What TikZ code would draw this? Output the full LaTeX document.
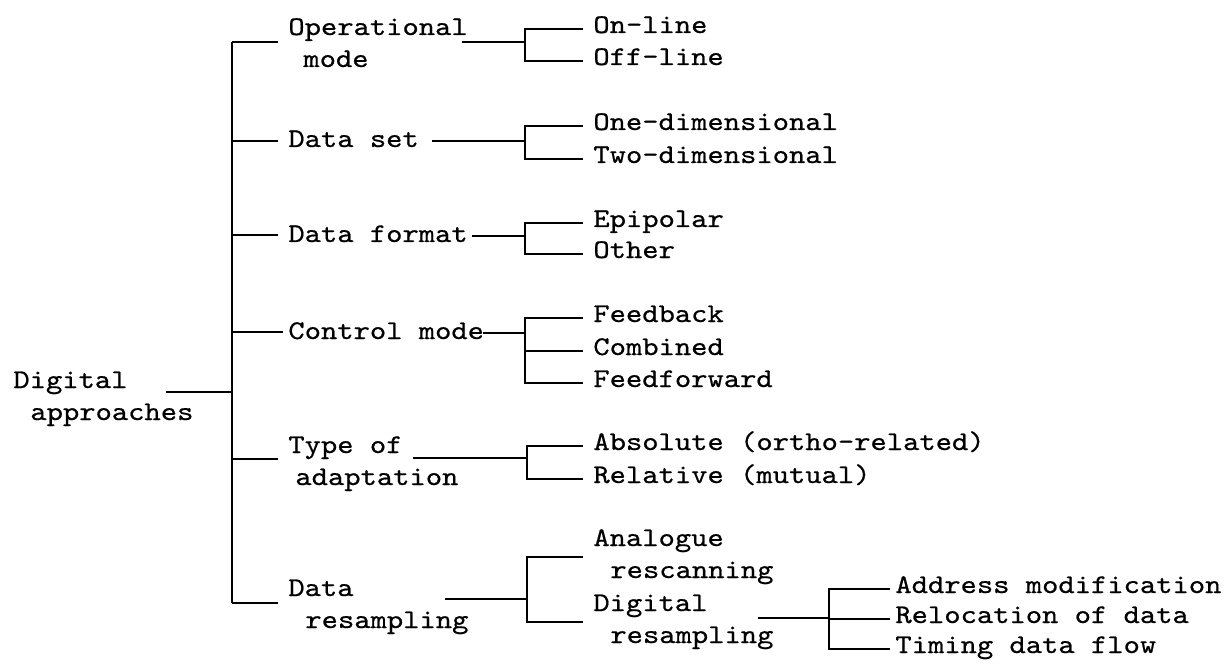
\documentclass[tikz,border=0pt]{standalone}
\usepackage{fontspec}
\newfontfamily\typewriter{lmmono10-regular.otf}[FakeStretch=1.15, FakeBold=0.6]

\begin{document}
\begin{tikzpicture}[
		x=0.5pt, y=-0.5pt,
		entry/.style={anchor=base west, inner xsep=5pt, inner ysep=1pt, align=left, font=\typewriter\fontsize{13.5}{16}\selectfont},
		tight/.style={inner xsep=2.5pt},
		conn/.style={line width=0.9pt}
	]
	\useasboundingbox (0,0) rectangle (1224,663);

	% root and first level (two-line nodes sit on their last line)
	\node[entry, inner xsep=0pt] (root) at (13,420) {Digital\\\hspace*{8.5pt}approaches};
	\node[entry] (op) at (278,67) {Operational\\\hspace*{7.5pt}mode};
	\node[entry] (ds) at (278,147) {Data set};
	\node[entry] (df) at (278,242) {Data format};
	\node[entry, tight] (cm) at (283,339) {Control mode};
	\node[entry] (ta) at (278,485) {Type of\\\hspace*{3.5pt}adaptation};
	\node[entry] (dr) at (278,628) {Data\\\hspace*{8.5pt}resampling};

	% second level
	\node[entry] (onl) at (583,33) {On-line};
	\node[entry] (ofl) at (583,65) {Off-line};
	\node[entry] (one) at (583,130) {One-dimensional};
	\node[entry] (two) at (583,163) {Two-dimensional};
	\node[entry] (epi) at (583,227) {Epipolar};
	\node[entry] (oth) at (583,258) {Other};
	\node[entry] (fb) at (583,322) {Feedback};
	\node[entry] (comb) at (583,355) {Combined};
	\node[entry] (ff) at (583,387) {Feedforward};
	\node[entry] (abs) at (583,450) {Absolute (ortho-related)};
	\node[entry] (rel) at (583,483) {Relative (mutual)};
	\node[entry] (ana) at (583,578) {Analogue\\\hspace*{8.5pt}rescanning};
	\node[entry] (dig) at (583,643) {Digital\\\hspace*{8.5pt}resampling};

	% third level
	\node[entry, tight] (adr) at (890,593) {Address modification};
	\node[entry, tight] (rloc) at (890,623) {Relocation of data};
	\node[entry, tight] (tim) at (890,653) {Timing data flow};

	% trunk
	\coordinate (root-out) at (166,392);
	\coordinate (j-root) at (232,392);
	\coordinate (j-op) at (232,42);
	\coordinate (j-ds) at (232,141);
	\coordinate (j-df) at (232,235);
	\coordinate (j-cm) at (232,332);
	\coordinate (j-ta) at (232,459);
	\coordinate (j-dr) at (232,603);
	\draw[conn] (root-out) -- (j-root);
	\draw[conn] (j-op) -- (j-dr);
	\foreach \k in {op,ds,df,cm,ta,dr}
		\draw[conn] (j-\k) -- (j-\k -| \k.west);

	% brackets of the second level
	\coordinate (op-out) at (462,42);   \coordinate (k-op) at (525,42);
	\coordinate (ds-out) at (432,141);  \coordinate (k-ds) at (525,141);
	\coordinate (df-out) at (472,236);  \coordinate (k-df) at (525,236);
	\coordinate (cm-out) at (483,333);  \coordinate (k-cm) at (525,333);
	\coordinate (ta-out) at (413,458);  \coordinate (k-ta) at (527,458);
	\coordinate (dr-out) at (445,599);  \coordinate (k-dr) at (527,599);
	\foreach \k in {op,ds,df,cm,ta,dr}
		\draw[conn] (\k-out) -- (k-\k);

	\draw[conn] (onl.mid west) -| (k-op) |- (ofl.mid west);
	\draw[conn] (one.mid west) -| (k-ds) |- (two.mid west);
	\draw[conn] (epi.mid west) -| (k-df) |- (oth.mid west);
	\draw[conn] (fb.mid west) -| (k-cm) |- (ff.mid west);
	\draw[conn] (k-cm |- comb.mid west) -- (comb.mid west);
	\draw[conn] (abs.mid west) -| (k-ta) |- (rel.mid west);
	\draw[conn] (ana.west) -| (k-dr) |- (dig.west);

	% third level
	\coordinate (dig-out) at (758,618);
	\coordinate (k-dig) at (829,618);
	\draw[conn] (dig-out) -- (k-dig);
	\draw[conn] (adr.mid west) -| (k-dig) |- (tim.mid west);
	\draw[conn] (k-dig |- rloc.mid west) -- (rloc.mid west);
\end{tikzpicture}
\end{document}
